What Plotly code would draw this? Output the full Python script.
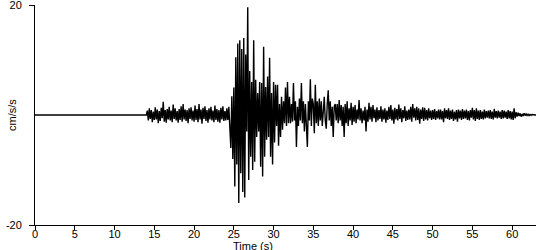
import numpy as np
import plotly.graph_objects as go

# ---- data ----
quiet_times = [0.0, 14.0]          # pre-event: trace lies flat on zero
quiet_values = [0.0, 0.0]

record_start = 14.125               # first sample after onset (s)
sample_interval = 0.125             # s between samples

# acceleration, cm/s/s, 8 samples per second, one row per second
accel = [
    # 14
    0.8, -1.0, 1.2, -0.7, 0.9, -1.3, 0.6,
    # 15
    -0.9, 1.4, -0.8, 1.0, -1.5, 0.7, -1.1, 1.3,
    # 16
    -0.6, 2.4, -1.2, 0.9, -1.4, 1.1, -0.8, 1.5,
    # 17
    -1.0, 0.8, -1.3, 1.9, -0.7, 1.2, -1.0, 0.7,
    # 18
    -1.4, 1.1, -0.9, 1.6, -1.2, 2.0, -0.8, 1.0,
    # 19
    -1.1, 0.9, -1.5, 1.2, -0.7, 1.4, -1.0, 0.8,
    # 20
    -1.2, 1.7, -0.9, 1.1, -1.3, 2.0, -0.8, 1.0,
    # 21
    -1.6, 1.3, -0.7, 1.6, -1.1, 0.9, -1.4, 1.2,
    # 22
    -0.8, 1.5, -1.0, 0.8, -1.3, 1.7, -0.9, 1.1,
    # 23
    -1.2, 0.9, -1.4, 1.3, -0.8, 1.6, -1.1, 0.7,
    # 24
    -1.0, 1.2, -0.9, 1.5, -1.3, -6.0, 3.4, -8.0,
    # 25
    5.0, -13.0, 10.5, -9.0, 13.0, -16.0, 13.6, -10.6,
    # 26
    12.0, -14.0, 14.0, -15.0, 11.0, -3.0, 19.6, -11.8,
    # 27
    8.0, -7.6, 6.0, -10.0, 13.6, -8.5, 6.4, -4.0,
    # 28
    4.0, -3.0, 6.0, -9.4, 5.8, -11.2, 12.4, -7.6,
    # 29
    5.1, -4.5, 7.0, -4.0, 10.4, -7.6, 4.0, -9.0,
    # 30
    6.0, -5.0, 5.5, -2.0, 5.5, -5.6, 2.0, -4.0,
    # 31
    3.3, -2.7, 2.5, -1.5, 5.0, -2.0, 6.0, -1.5,
    # 32
    3.3, -1.5, 2.0, -1.2, 5.8, -1.0, 2.5, -5.8,
    # 33
    1.5, -2.0, 3.0, -1.0, 5.8, -1.5, 2.5, -3.0,
    # 34
    2.0, -1.5, -5.8, 2.5, -1.0, 6.5, -2.0, 3.0,
    # 35
    2.0, -3.3, 5.5, -1.5, 2.5, -2.0, 3.0, -1.0,
    # 36
    2.5, -2.0, 1.5, 3.3, -1.0, -2.5, 2.0, 4.5,
    # 37
    -1.0, 2.5, -2.0, 1.5, -4.0, 1.5, 2.0, -1.0,
    # 38
    2.0, -1.5, 2.7, -1.0, 1.8, -2.0, 1.5, -4.0,
    # 39
    2.0, -1.5, 2.5, -2.0, 1.2, -1.0, 2.2, -1.8,
    # 40
    1.5, -1.2, 1.8, -1.5, 1.0, -0.8, 2.7, -1.0,
    # 41
    1.2, -1.5, 0.8, -1.0, 1.5, -3.0, 1.0, -1.2,
    # 42
    2.2, -0.8, 1.5, -1.2, 1.8, -0.6, 1.0, -1.3,
    # 43
    1.4, -1.0, 0.9, -0.7, 1.6, -1.2, 1.0, -0.8,
    # 44
    1.2, -1.4, 0.8, -0.9, 1.5, -0.7, 1.8, -1.0,
    # 45
    1.0, -1.6, 1.3, -0.8, 1.1, -1.0, 1.9, -0.7,
    # 46
    1.2, -1.3, 0.9, -0.6, 1.6, -1.1, 0.8, -0.9,
    # 47
    1.0, -0.8, 1.5, -1.2, 2.0, -0.5, 1.2, -1.0,
    # 48
    1.5, -0.9, 1.2, -1.6, 1.0, -0.7, 1.4, -1.1,
    # 49
    1.3, -0.8, 0.9, -1.0, 1.2, -0.6, 0.8, -0.9,
    # 50
    0.9, -0.7, 1.1, -0.9, 0.7, -0.6, 1.0, -0.8,
    # 51
    1.0, -0.8, 0.7, -1.3, 1.2, -0.6, 0.9, -0.7,
    # 52
    1.2, -0.9, 0.8, -0.7, 1.0, -1.1, 0.6, -0.8,
    # 53
    0.9, -1.2, 1.0, -0.6, 0.8, -0.9, 1.1, -0.7,
    # 54
    0.8, -0.6, 1.0, -0.9, 0.7, -1.0, 0.9, -0.5,
    # 55
    1.3, -0.8, 0.9, -1.1, 1.2, -0.7, 0.8, -0.9,
    # 56
    0.9, -0.7, 0.6, -0.8, 1.0, -0.6, 0.7, -0.5,
    # 57
    0.8, -0.6, 0.9, -0.7, 0.6, -0.8, 1.1, -0.5,
    # 58
    0.7, -0.6, 0.8, -0.5, 0.6, -0.7, 0.9, -0.6,
    # 59
    0.8, -0.5, 0.6, -0.7, 0.9, -0.6, 0.7, -0.8,
    # 60
    0.6, -0.9, 1.2, -0.6, 0.5, -0.3, 0.4, -0.2,
    # 61
    0.3, -0.3, 0.2, -0.2, 0.3, -0.1, 0.2, -0.1,
    # 62
    0.15, -0.1, 0.1, -0.05, 0.1, 0.0, 0.05, 0.0,
    # 63
    0.0,
]

x_ticks = [0, 5, 10, 15, 20, 25, 30, 35, 40, 45, 50, 55, 60]
y_ticks = [-20, 20]
x_title = "Time (s)"
y_title = "cm/s/s"

# ---- build ----
rec_times = record_start + sample_interval * np.arange(len(accel))
times = np.concatenate([quiet_times, rec_times])
values = np.concatenate([quiet_values, accel])

FONT = "Liberation Sans"

fig = go.Figure(
    go.Scatter(
        x=times,
        y=values,
        mode="lines",
        line=dict(color="black", width=1.4),
        hoverinfo="skip",
    )
)

fig.update_layout(
    width=550,
    height=250,
    margin=dict(l=35, r=14, t=5, b=25, autoexpand=False),
    paper_bgcolor="white",
    plot_bgcolor="white",
    showlegend=False,
    font=dict(family=FONT, size=11, color="black"),
)

fig.update_xaxes(
    range=[0, 63],
    tickvals=x_ticks,
    ticktext=[str(v) for v in x_ticks],
    showgrid=False,
    zeroline=False,
    showline=True,
    linecolor="black",
    linewidth=1,
    ticks="outside",
    ticklen=4,
    tickcolor="black",
    ticklabelstandoff=-5,
    ticklabeloverflow="allow",
    automargin=False,
    tickfont=dict(family=FONT, size=11, color="black"),
)
fig.update_yaxes(
    range=[-20, 20],
    tickvals=y_ticks,
    ticktext=[str(v) for v in y_ticks],
    showgrid=False,
    zeroline=False,
    showline=True,
    linecolor="black",
    linewidth=1,
    ticks="outside",
    ticklen=5,
    tickcolor="black",
    ticklabelstandoff=5,
    ticklabeloverflow="allow",
    automargin=False,
    tickfont=dict(family=FONT, size=11, color="black"),
)

fig.add_annotation(
    text=x_title, xref="paper", yref="paper", x=(231 - 35) / 501, y=0,
    yshift=-13, xanchor="left", yanchor="top", showarrow=False,
    font=dict(family=FONT, size=11, color="black"),
)
fig.add_annotation(
    text=y_title, xref="paper", yref="paper", x=0, y=0.5,
    xshift=-23, xanchor="center", yanchor="middle", textangle=-90,
    showarrow=False, font=dict(family=FONT, size=11, color="black"),
)

fig.write_html("out.html")
